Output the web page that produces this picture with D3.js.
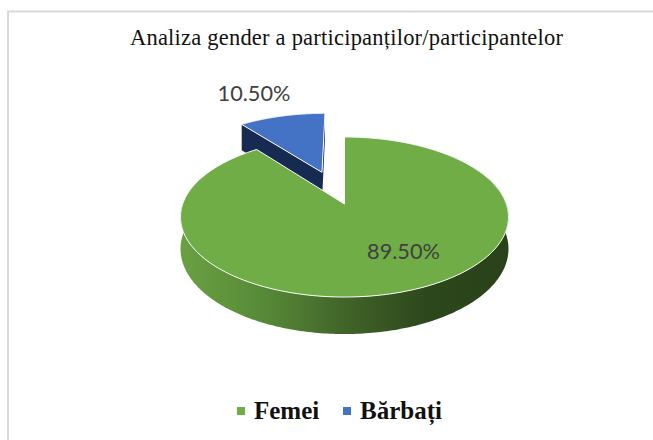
<!DOCTYPE html>
<html><head><meta charset="utf-8">
<script src="https://cdn.jsdelivr.net/npm/d3@7"></script>
<style>html,body{margin:0;padding:0;background:#fff}svg{display:block}</style>
</head><body><div id="chart"></div>
<script>
const categories = ["Femei", "Bărbați"];
const values = [89.5, 10.5];
const valueLabels = ["89.50%", "10.50%"];
const colors = ["#70ad47", "#4472c4"];
const wallColors = ["#70ad47", "#172b52"];
const explode = [0, 0.46];
const title = "Analiza gender a participanților/participantelor";

const W = 653, H = 440;
const svg = d3.select("#chart").append("svg").attr("width", W).attr("height", H);
svg.append("path").attr("d", `M8,${H}V11.5H${W}`).attr("fill", "none").attr("stroke", "#d9d9d9").attr("stroke-width", 2);

const cx = 344.5, cy = 204, a = 161.8, b = 77.9, k = 0.1627, depth = 31;
const project = (u, v, z) => {
  const s = 1 / (1 - k * v);
  return [cx + a * u * s, cy + (b * v + z) * s];
};
const pie = d3.pie().sort(null).startAngle(0).endAngle(2 * Math.PI)(values);
const line = d3.line();

pie.forEach((d, i) => { d.off = explode[i]; d.mid = (d.startAngle + d.endAngle) / 2; });
const rim = (d, t, z) => {
  const th = d.startAngle + t * (d.endAngle - d.startAngle);
  const ou = d.off * Math.sin(d.mid), ov = -d.off * Math.cos(d.mid);
  return project(ou + Math.sin(th), ov - Math.cos(th), z);
};
const apex = (d, z) => {
  const ou = d.off * Math.sin(d.mid), ov = -d.off * Math.cos(d.mid);
  return project(ou, ov, z);
};
const ts = d3.range(0, 1.00001, 1 / 360);

const defs = svg.append("defs");
const grad = defs.append("linearGradient").attr("id", "wall").attr("gradientUnits", "userSpaceOnUse")
  .attr("x1", 181).attr("x2", 509).attr("y1", 0).attr("y2", 0);
[[0, "#6aa043"], [0.25, "#578a37"], [0.5, "#416429"], [0.75, "#2d471c"], [1, "#2a4119"]].forEach(s =>
  grad.append("stop").attr("offset", s[0]).attr("stop-color", s[1]));

const draw = (d, i) => {
  const g = svg.append("g");
  const topPts = [apex(d, 0), ...ts.map(t => rim(d, t, 0))];
  if (i === 0) {
    const wallTs = ts.filter(t => Math.sin(d.startAngle + t * (d.endAngle - d.startAngle) - Math.PI / 2) >= -0.35);
    const upper = wallTs.map(t => rim(d, t, 0));
    const lower = wallTs.map(t => rim(d, t, depth)).reverse();
    g.append("path").attr("d", line([...upper, ...lower]) + "Z").attr("fill", "url(#wall)");
  } else {
    const p = [rim(d, 0, 0), apex(d, 0), rim(d, 1, 0), rim(d, 1, depth), apex(d, depth), rim(d, 0, depth)];
    g.append("path").attr("d", line(p) + "Z").attr("fill", wallColors[i]);
  }
  g.append("path").attr("d", line(topPts) + "Z").attr("fill", colors[i])
    .attr("stroke", "#fbfcfa").attr("stroke-width", 1).attr("stroke-linejoin", "round");
};
draw(pie[1], 1);
draw(pie[0], 0);

svg.append("text").attr("x", 346.5).attr("y", 45).attr("text-anchor", "middle")
  .attr("font-family", "Liberation Serif").attr("font-size", 22.5)
  .attr("textLength", 433).attr("lengthAdjust", "spacing").attr("fill", "#111").text(title);

const labelPos = [[403.5, 259], [254, 101]];
valueLabels.forEach((t, i) => svg.append("text").attr("x", labelPos[i][0]).attr("y", labelPos[i][1])
  .attr("text-anchor", "middle").attr("font-family", "Lato").attr("font-size", 21.7).attr("fill", "#404040").text(t));

const legendX = [237, 343], textX = [254, 360];
categories.forEach((c, i) => {
  svg.append("rect").attr("x", legendX[i]).attr("y", 407).attr("width", 8).attr("height", 8).attr("fill", colors[i]);
  svg.append("text").attr("x", textX[i]).attr("y", 419).attr("font-family", "Liberation Serif")
    .attr("font-weight", "bold").attr("font-size", 25).attr("fill", "#111").text(c);
});
</script></body></html>
